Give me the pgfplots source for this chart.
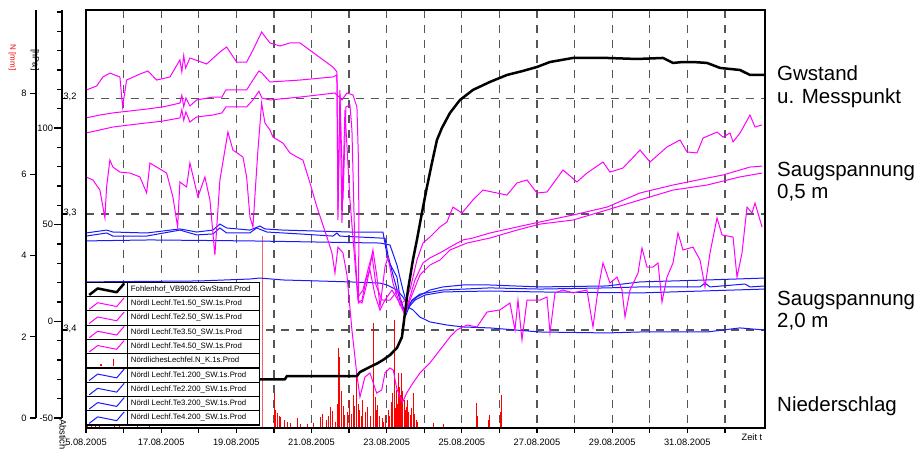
\documentclass[border=0pt]{standalone}
\usepackage{fontspec}
\setmainfont{Liberation Sans}
\usepackage{pgfplots}
\pgfplotsset{compat=1.18}
\definecolor{mag}{RGB}{255,0,255}
\definecolor{blu}{RGB}{25,25,255}
\definecolor{gridc}{RGB}{85,85,85}
\definecolor{lred}{RGB}{255,95,95}
\newcommand\tfont{\fontsize{9.3}{11}\selectfont}
\newcommand\lfont{\fontsize{20.5}{22.5}\selectfont}
\pgfplotsset{
  base/.style={scale only axis, width=679pt, height=418pt, xmin=0, xmax=18.067,
    at={(86pt,27pt)}, anchor=south west},
  deco/.style={scale only axis, width=5pt, height=408pt, xmin=0, xmax=1,
    anchor=south west, axis y line*=left, axis x line=none, tick align=outside,
    axis line style={line width=1.3pt}, tick style={black, line width=1.2pt},
    yticklabel style={font=\tfont}, /pgf/number format/assume math mode=true},
}
\begin{document}
\begin{tikzpicture}
\useasboundingbox (0,0) rectangle (923pt,455pt);

% N [mm] axis (decoration)
\begin{axis}[deco, at={(36pt,37pt)}, ymin=0, ymax=10.05, ytick={0,2,4,6,8},
  major tick length=6pt]
\end{axis}
% hPa axis (decoration)
\begin{axis}[deco, at={(62pt,37pt)}, ymin=-50, ymax=161.03, ytick={-50,0,50,100},
  minor ytick={-40,-30,-20,-10,10,20,30,40,60,70,80,90,110,120,130,140,150,160},
  major tick length=8pt, minor tick length=5pt,
  yticklabel style={font=\tfont, inner xsep=0.8pt}]
\end{axis}
% m axis (decoration, ticks to the right of the hPa line)
\begin{axis}[scale only axis, width=5pt, height=418pt, at={(57pt,27pt)}, anchor=south west,
  xmin=0, xmax=1, y dir=reverse, ymin=3.1238, ymax=3.4847,
  axis y line*=right, axis x line=none, tick align=outside,
  ytick={3.2,3.3,3.4}, yticklabels={{3,2},{3,3},{3,4}}, major tick length=5pt,
  axis line style={draw=none}, tick style={black, line width=1.2pt},
  yticklabel style={font=\tfont, anchor=base west, inner sep=0pt, xshift=-3.7pt, yshift=-1.5pt}]
\end{axis}

% grid and x ticks
\begin{axis}[base, y dir=reverse, ymin=3.1238, ymax=3.4847,
  tick align=outside, major tick length=5pt, xtick pos=bottom,
  xtick={0,...,17},
  xticklabels={5.08.2005,,17.08.2005,,19.08.2005,,21.08.2005,,23.08.2005,,25.08.2005,,27.08.2005,,29.08.2005,,31.08.2005,},
  extra x ticks={17.72}, extra x tick labels={Zeit t},
  extra x tick style={grid=none, major tick length=0pt},
  xticklabel style={font=\tfont, yshift=-2.5pt},
  xmajorgrids, ymajorgrids,
  major grid style={dash pattern=on 8pt off 7pt, line width=1.2pt, gridc},
  ytick={3.2,3.3,3.4}, yticklabels={}, ytick style={draw=none},
  tick style={black, line width=1.2pt},
  axis line style={draw=none}]
\end{axis}

% Niederschlag N [mm]
\begin{axis}[base, hide axis, ymin=0, ymax=10.296]
\addplot[ycomb, red, line width=0.9pt] coordinates {
(0.051,0.05) (0.157,0.07) (0.263,0.05) (0.370,0.07) (0.769,0.05) (0.902,0.07)
(1.381,0.05) (1.701,0.05) (5.027,0.86) (5.05,0.45) (5.107,0.37) (5.15,0.3) (5.187,0.27)
(5.267,0.2) (5.35,0.15) (5.427,0.12) (5.614,0.25) (5.693,0.1) (5.9,0.1) (6.05,0.12)
(6.226,0.27) (6.3,0.35) (6.386,0.2) (6.45,0.3) (6.492,0.52) (6.55,0.42) (6.625,0.15)
(6.68,0.6) (6.712,1.97) (6.757,1.75) (6.80,0.9) (6.85,0.55) (6.890,0.32) (6.95,0.4)
(7.023,0.69) (7.05,0.35) (7.103,0.81) (7.13,0.55) (7.183,1.35) (7.209,0.94) (7.25,0.6)
(7.289,0.44) (7.33,0.3) (7.369,0.69) (7.43,0.4) (7.502,0.52) (7.58,0.3) (7.643,2.59)
(7.689,0.76) (7.72,0.45) (7.768,0.57) (7.80,0.3) (7.875,0.25) (7.92,0.15) (7.981,0.32)
(8.035,0.44) (8.07,0.3) (8.115,0.64) (8.15,0.85) (8.195,2.66) (8.23,0.5) (8.266,0.94)
(8.28,0.6) (8.309,1.35) (8.33,1.0) (8.354,0.81) (8.37,0.55) (8.399,1.35) (8.43,0.9)
(8.460,0.69) (8.49,0.45) (8.532,0.52) (8.56,0.7) (8.59,0.4) (8.620,0.32) (8.65,0.5)
(8.708,0.86) (8.74,0.35) (8.780,0.2) (8.82,0.15) (9.232,0.12) (9.5,0.1) (10.395,0.62)
(10.41,0.3) (10.7,0.2) (10.723,0.32) (11.04,0.4) (11.060,0.81)};
\addplot[ycomb, lred, line width=1.3pt] coordinates {(4.700,4.73)};
\end{axis}

% Saugspannung [hPa]
\begin{axis}[base, hide axis, ymin=-55.16, ymax=161.03]
% Te4.200
\addplot[blu, line width=1pt] coordinates {
(0,20.4) (3.031,20.9) (4.362,21.9) (4.628,22.4) (5.240,21.4) (6.145,20.9) (7.023,20.4)
(7.822,19.8) (8.008,18.8) (8.274,16.2) (8.434,12.6) (8.567,7.4) (8.700,5.9) (8.886,2.2)
(9.152,-0.3) (9.605,-1.9) (10.030,-2.9) (10.749,-3.4) (12.080,-5.5) (13.863,-6.0)
(14.741,-5.5) (16.524,-5.5) (17.402,-3.4) (18.067,-4.5)};
% Te3.200
\addplot[blu, line width=1pt] coordinates {
(0,41.6) (1.701,42.1) (4.362,41.6) (6.225,41.0) (7.822,40.5) (8.088,39.5) (8.274,29.1)
(8.434,16.2) (8.567,6.9) (8.753,11.0) (9.019,13.6) (9.498,15.2) (10.749,15.7)
(12.080,15.2) (14.741,14.7) (18.067,16.7)};
% Te2.200
\addplot[blu, line width=1pt] coordinates {
(0,44.1) (0.548,45.7) (0.716,44.1) (1.613,44.1) (2.499,47.2) (2.943,44.7) (3.377,45.2)
(3.563,48.3) (3.742,45.7) (4.362,45.7) (4.540,48.3) (4.814,46.2) (5.693,45.2)
(6.571,44.1) (6.677,45.7) (6.757,44.1) (7.822,43.1) (7.955,43.1) (8.034,34.3)
(8.168,24.0) (8.354,11.0) (8.513,3.3) (8.673,11.0) (8.886,14.1) (9.498,16.2)
(10.749,17.3) (12.080,16.7) (13.863,17.3) (14.741,17.8) (16.338,17.8) (16.471,19.8)
(16.604,17.8) (17.535,19.3) (17.668,17.8) (18.067,18.3)};
% Te1.200
\addplot[blu, line width=1pt] coordinates {
(0,45.7) (0.548,47.2) (0.716,46.2) (1.613,45.7) (2.499,47.8) (2.943,46.2) (3.377,47.2)
(3.563,50.3) (3.742,48.3) (4.362,47.2) (4.628,49.3) (4.761,47.8) (5.240,47.2)
(6.145,46.7) (7.023,46.2) (7.901,46.2) (8.034,31.7) (8.274,22.9) (8.354,12.6)
(8.487,4.3) (8.620,9.5) (8.806,12.6) (9.152,16.2) (9.498,17.8) (10.030,18.8)
(10.749,18.8) (12.080,17.8) (13.863,18.3) (14.741,20.4) (16.524,21.4) (18.067,22.4)};
% Te4.50
\addplot[mag, line width=1pt] coordinates {
(0,74.7) (0.184,73.1) (0.370,67.9) (0.503,53.5) (0.548,69.5) (0.636,83.4) (0.716,79.8)
(0.902,77.2) (1.168,76.7) (1.434,74.7) (1.613,66.4) (1.701,81.9) (1.879,79.8)
(2.145,76.7) (2.313,64.3) (2.438,48.8) (2.499,72.1) (2.677,69.5) (2.765,81.9)
(2.978,64.3) (3.164,74.7) (3.297,62.8) (3.430,34.3) (3.563,73.1) (3.776,97.9)
(3.909,88.6) (4.176,85.0) (4.274,74.7) (4.362,54.0) (4.442,48.8) (4.522,73.1)
(4.575,88.6) (4.673,112.9) (4.761,102.6) (4.894,99.0) (4.974,95.3) (5.240,92.2)
(5.426,87.1) (5.613,85.0) (5.772,83.4) (5.959,71.6) (6.145,59.1) (6.411,43.6)
(6.544,35.4) (6.624,25.0) (6.704,38.4) (6.837,35.4) (6.943,24.0) (7.076,-4.5)
(7.209,-27.8) (7.289,-39.1) (7.422,-28.8) (7.555,-26.7) (7.734,-37.1) (7.867,-35.5)
(7.955,-26.7) (8.088,-24.1) (8.175,-25.2) (8.266,-34.5) (8.354,-39.1) (8.426,-41.7)
(8.532,-37.1) (8.700,-31.9) (8.886,-26.7) (9.152,-21.5) (9.418,-14.8) (9.684,-8.1)
(9.863,-4.5) (10.137,-1.9) (10.403,-2.9) (10.669,4.8) (11.015,5.9) (11.281,9.5)
(11.414,-4.5) (11.494,11.0) (11.601,-9.6) (11.734,11.0) (12.080,11.0) (12.266,12.6)
(12.346,-6.0) (12.479,14.7) (12.692,16.2) (12.958,14.7) (13.330,16.2) (13.490,-2.9)
(13.623,16.2) (13.756,30.2) (13.942,19.8) (14.129,22.9) (14.262,16.2) (14.342,2.2)
(14.475,16.2) (14.688,25.0) (14.794,37.9) (14.927,28.1) (15.087,28.1) (15.220,30.2)
(15.326,10.0) (15.459,22.9) (15.619,30.2) (15.752,45.7) (15.885,36.9) (16.151,38.4)
(16.338,31.7) (16.471,17.8) (16.604,35.4) (16.790,53.5) (16.923,44.7) (17.216,43.6)
(17.322,22.9) (17.455,35.4) (17.588,59.1) (17.721,56.0) (17.801,61.2) (17.988,48.8)};
% Te3.50
\addplot[mag, line width=1pt] coordinates {
(0,97.4) (0.370,99.0) (0.716,100.5) (1.168,101.6) (1.613,102.6) (2.047,103.6)
(2.499,105.2) (2.55,109.5) (2.6,104.0) (2.659,108.3) (2.765,103.1) (2.943,105.7) (3.377,106.7) (3.617,107.8)
(3.723,110.9) (4.274,110.9) (4.442,114.5) (4.60,119.0) (4.681,115.5) (4.894,114.5) (5.693,116.0)
(6.624,118.1) (6.810,114.5) (6.943,118.1) (7.103,117.1) (7.209,110.9) (7.244,87.1)
(7.263,52.4) (7.250,9.5) (7.343,11.0) (7.449,21.4) (7.555,26.6) (7.689,13.6)
(7.822,5.9) (7.955,11.0) (8.141,16.2) (8.301,11.0) (8.487,3.3) (8.620,11.0)
(8.886,24.0) (9.152,29.1) (9.418,31.7) (9.684,36.9) (10.137,40.5) (10.749,43.1)
(11.468,47.2) (12.080,50.3) (12.958,52.4) (13.863,57.6) (14.741,62.8) (15.619,67.9)
(16.524,70.5) (17.402,74.7) (17.988,76.7)};
% Te2.50
\addplot[mag, line width=1pt] coordinates {
(0,105.2) (0.370,106.7) (0.716,107.8) (1.168,108.8) (1.613,109.8) (2.047,110.9)
(2.499,112.9) (2.55,117.0) (2.6,111.0) (2.659,115.5) (2.765,111.4) (2.943,114.5) (3.377,116.0) (3.617,116.0)
(3.723,119.7) (4.274,119.7) (4.442,124.8) (4.60,129.5) (4.681,128.4) (4.894,123.8) (5.693,124.8)
(6.571,126.4) (6.677,127.4) (6.704,57.6) (6.757,117.1) (6.837,62.8) (6.917,110.9)
(7.023,111.9) (7.076,99.0) (7.156,36.9) (7.236,12.6) (7.369,16.2) (7.502,26.6)
(7.609,34.3) (7.715,18.8) (7.875,11.0) (8.088,11.0) (8.301,16.2) (8.434,5.9)
(8.540,7.4) (8.753,21.4) (8.966,30.2) (9.152,32.8) (9.418,35.4) (9.684,38.4)
(10.030,42.1) (10.296,43.1) (10.749,45.7) (11.468,48.8) (12.080,51.4) (12.958,55.0)
(13.863,59.1) (14.741,66.4) (15.619,70.5) (16.524,74.1) (16.950,75.7) (17.668,79.8)
(17.988,80.3)};
% Te1.50
\addplot[mag, line width=1pt] coordinates {
(0,119.6) (0.282,121.7) (0.450,126.4) (0.636,128.4) (0.902,126.4) (0.974,110.9)
(1.080,124.8) (1.434,127.9) (1.647,129.5) (1.879,124.8) (2.233,126.4) (2.499,135.2)
(2.55,129.0) (2.6,137.5) (2.65,131.0)
(2.765,136.2) (3.210,133.1) (3.563,139.3) (3.742,141.9) (4.008,134.1) (4.274,134.1)
(4.442,140.3) (4.673,149.6) (4.894,144.0) (5.160,142.4) (5.426,144.0) (5.693,144.0)
(6.571,131.5) (6.677,129.0) (6.704,52.4) (6.757,119.7) (6.810,50.9) (6.890,109.3)
(7.023,62.8) (7.130,36.9) (7.236,11.0) (7.343,9.5) (7.476,19.8) (7.635,36.9)
(7.742,22.9) (7.822,7.4) (7.955,28.1) (8.034,33.3) (8.168,19.8) (8.354,8.5)
(8.487,11.0) (8.620,16.2) (8.806,31.7) (8.966,40.5) (9.152,43.6) (9.418,48.8)
(9.605,51.4) (9.764,59.1) (10.004,56.0) (10.296,62.8) (10.563,67.9) (11.201,65.3)
(11.468,71.6) (11.734,73.1) (12.000,66.4) (12.266,66.9) (12.692,78.3) (13.064,72.1)
(13.330,76.7) (13.756,82.4) (13.942,77.2) (14.288,79.3) (14.741,88.6) (15.007,82.4)
(15.459,90.2) (15.805,93.8) (15.992,87.6) (16.258,87.1) (16.418,94.8) (16.790,97.9)
(16.950,95.3) (17.136,97.4) (17.216,92.8) (17.402,97.4) (17.668,106.7) (17.801,100.5)
(17.988,101.6)};
\end{axis}

% Grundwasserstand [m] + frame
\begin{axis}[base, y dir=reverse, ymin=3.1238, ymax=3.4847, xtick=\empty, ytick=\empty,
  axis line style={line width=2.6pt, black}]
\addplot[black, line width=2.5pt, line join=round] coordinates {
(0,3.4441) (4.575,3.4427) (5.293,3.4427) (5.346,3.4398) (7.209,3.4398) (7.289,3.4364)
(7.555,3.4320) (7.768,3.4286) (7.901,3.4260) (8.088,3.4217) (8.274,3.4156) (8.407,3.4061)
(8.487,3.3854) (8.567,3.3655) (8.699,3.3396) (8.805,3.3223) (8.938,3.2990) (9.072,3.2766)
(9.205,3.2558) (9.338,3.2360) (9.471,3.2256) (9.684,3.2127) (9.950,3.2015) (10.296,3.1928)
(10.748,3.1859) (11.201,3.1799) (11.627,3.1764) (11.999,3.1730) (12.345,3.1687)
(12.957,3.1652) (13.862,3.1652) (14.661,3.1661) (15.353,3.1652) (15.619,3.1695)
(15.885,3.1687) (16.151,3.1687) (16.524,3.1695) (16.870,3.1738) (17.402,3.1756)
(17.668,3.1799) (18.067,3.1799)};
\end{axis}

% legend (table of 10 rows)
\fill[white] (87.3pt,30pt) rectangle (259.7pt,172.7pt);
\foreach \k/\c/\w in {0/black/2.5pt, 1/mag/1pt, 2/mag/1pt, 3/mag/1pt, 4/mag/1pt,
                      6/blu/1pt, 7/blu/1pt, 8/blu/1pt, 9/blu/1pt}{
  \pgfmathsetmacro\cy{172.7-14.27*(\k+0.5)}
  \begin{scope}[shift={(86.7pt,\cy pt)}]
    \draw[\c, line width=\w, line join=round] (2.5pt,-5.5pt) -- (11pt,1pt) -- (30pt,-2.8pt) -- (37.5pt,6pt);
  \end{scope}}
\begin{scope}[shift={(86.7pt,94.215pt)}]
  \draw[red, line width=1.6pt] (13.2pt,-4.2pt) -- (14.8pt,-4.2pt);
  \draw[red, line width=1pt] (26.7pt,-4.8pt) -- (26.7pt,1.8pt);
\end{scope}
\foreach \k [evaluate=\k as \yy using 172.7-\k*14.27] in {0,...,10}{
  \draw[line width=1.2pt] (86.7pt,\yy pt) -- (259.7pt,\yy pt);}
\draw[line width=1.2pt] (86.7pt,30pt) -- (86.7pt,172.7pt);
\draw[line width=1.2pt] (127.7pt,30pt) -- (127.7pt,172.7pt);
\draw[line width=1.2pt] (259.7pt,30pt) -- (259.7pt,172.7pt);
\begin{scope}[every node/.style={anchor=west, inner sep=0pt, font=\fontsize{7.8}{8}\selectfont, text height=5.6pt, text depth=1.6pt}]
\node at (130.7pt,165.565pt) {Fohlenhof\_VB9026.GwStand.Prod};
\node at (130.7pt,151.295pt) {Nördl Lechf.Te1.50\_SW.1s.Prod};
\node at (130.7pt,137.025pt) {Nördl Lechf.Te2.50\_SW.1s.Prod};
\node at (130.7pt,122.755pt) {Nördl Lechf.Te3.50\_SW.1s.Prod};
\node at (130.7pt,108.485pt) {Nördl Lechf.Te4.50\_SW.1s.Prod};
\node at (130.7pt,94.215pt) {NördlichesLechfel.N\_K.1s.Prod};
\node at (130.7pt,79.945pt) {Nördl Lechf.Te1.200\_SW.1s.Prod};
\node at (130.7pt,65.675pt) {Nördl Lechf.Te2.200\_SW.1s.Prod};
\node at (130.7pt,51.405pt) {Nördl Lechf.Te3.200\_SW.1s.Prod};
\node at (130.7pt,37.135pt) {Nördl Lechf.Te4.200\_SW.1s.Prod};
\end{scope}

% axis titles
\node[rotate=-90, red, font=\fontsize{8}{9}\selectfont, inner sep=0] at (12.5pt,397.5pt) {N [mm]};
\node[rotate=-90, font=\fontsize{9}{10}\selectfont, inner sep=0] at (35pt,395pt) {[hPa]};
\node[rotate=-90, anchor=west, font=\tfont, inner sep=0] at (63pt,36pt) {Abstich};

% right-hand annotations
\node[anchor=base west, font=\lfont, inner sep=0] at (777pt,374pt) {Gwstand};
\node[anchor=base west, font=\lfont, inner sep=0] at (777pt,351.7pt) {u. Messpunkt};
\node[anchor=base west, font=\lfont, inner sep=0] at (777pt,278.3pt) {Saugspannung};
\node[anchor=base west, font=\lfont, inner sep=0] at (777pt,256.7pt) {0,5 m};
\node[anchor=base west, font=\lfont, inner sep=0] at (777pt,149pt) {Saugspannung};
\node[anchor=base west, font=\lfont, inner sep=0] at (777pt,127pt) {2,0 m};
\node[anchor=base west, font=\lfont, inner sep=0] at (777pt,43pt) {Niederschlag};
\end{tikzpicture}
\end{document}
